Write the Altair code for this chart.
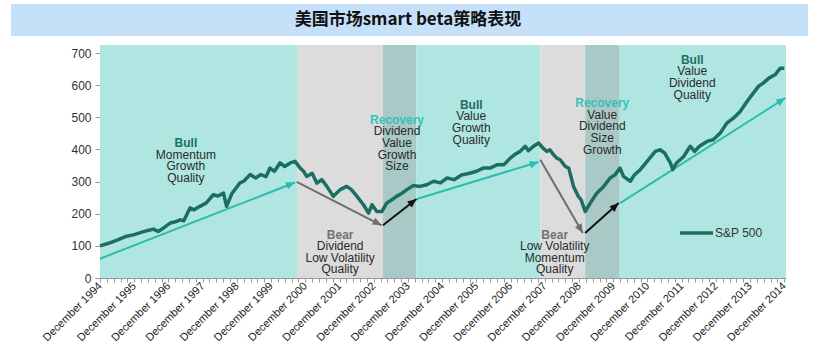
import math
import altair as alt
import pandas as pd

# ---------------- data ----------------
title_text = "美国市场smart beta策略表现"
legend_label = "S&P 500"

# years since December 1994
t_years = [0.00, 0.25, 0.5, 0.78, 1.0, 1.2, 1.4, 1.56, 1.7, 1.85, 2.05, 2.2, 2.34, 2.45, 2.63, 2.75,
           2.92, 3.1, 3.31, 3.45, 3.61, 3.70, 3.85, 4.09, 4.2, 4.39, 4.55, 4.7, 4.85, 4.97, 5.1,
           5.26, 5.4, 5.56, 5.70, 5.85, 5.95, 6.04, 6.2, 6.34, 6.48, 6.63, 6.82, 7.02, 7.21, 7.35,
           7.51, 7.70, 7.85, 7.95, 8.09, 8.24, 8.38, 8.55, 8.67, 8.8, 8.97, 9.16, 9.35, 9.55, 9.75,
           9.95, 10.14, 10.35, 10.58, 10.8, 11.01, 11.2, 11.40, 11.6, 11.8, 11.99, 12.12, 12.28,
           12.43, 12.52, 12.67, 12.82, 12.95, 13.06, 13.15, 13.25, 13.35, 13.45, 13.6, 13.7, 13.84,
           13.98, 14.06, 14.18, 14.33, 14.52, 14.72, 14.91, 15.05, 15.20, 15.3, 15.50, 15.62, 15.79,
           15.99, 16.23, 16.37, 16.5, 16.67, 16.74, 16.85, 17.06, 17.25, 17.38, 17.52, 17.74, 17.92,
           18.13, 18.32, 18.52, 18.71, 18.91, 19.10, 19.25, 19.39, 19.55, 19.74, 19.88, 20.0]
sp_values = [100, 108, 118, 130, 135, 142, 148, 152, 145, 155, 171, 175, 181, 178, 218, 212,
             223, 233, 259, 255, 264, 223, 262, 296, 301, 322, 311, 322, 315, 342, 332,
             358, 347, 358, 363, 342, 332, 316, 326, 295, 306, 285, 254, 275, 285, 275,
             254, 228, 202, 228, 207, 207, 233, 245, 254, 262, 275, 288, 285, 290, 301,
             296, 311, 306, 321, 326, 332, 342, 342, 352, 352, 373, 384, 394,
             410, 396, 410, 420, 404, 394, 399, 384, 373, 368, 347, 342, 285,
             254, 244, 207, 233, 264, 285, 311, 321, 342, 316, 301, 321, 337,
             363, 394, 399, 389, 358, 337, 358, 378, 410, 394, 410, 425, 430,
             451, 482, 498, 518, 549, 576, 597, 607, 622, 633, 653, 653]

phase_start = [0.0, 5.76, 8.27, 9.24, 12.87, 14.18, 15.19]
phase_end = [5.76, 8.27, 9.24, 12.87, 14.18, 15.19, 20.05]
phase_kind = ["bull", "bear", "recovery", "bull", "bear", "recovery", "bull"]

arrow_x1 = [0.0, 5.75, 8.27, 9.26, 12.87, 14.18, 15.20]
arrow_y1 = [60, 299, 164, 246, 368, 140, 233]
arrow_x2 = [5.70, 8.23, 9.25, 12.82, 14.11, 15.16, 20.03]
arrow_y2 = [297, 164, 246, 361, 140, 233, 560]
arrow_kind = ["up", "down", "turn", "up", "down", "turn", "up"]

block_x = [2.51, 7.02, 8.68, 10.85, 13.29, 14.68, 17.31]
block_y = [420, 135, 492, 539, 135, 544, 679]
block_head = ["Bull", "Bear", "Recovery", "Bull", "Bear", "Recovery", "Bull"]
block_lines = [["Momentum", "Growth", "Quality"],
               ["Dividend", "Low Volatility", "Quality"],
               ["Dividend", "Value", "Growth", "Size"],
               ["Value", "Growth", "Quality"],
               ["Low Volatility", "Momentum", "Quality"],
               ["Value", "Dividend", "Size", "Growth"],
               ["Value", "Dividend", "Quality"]]

start_year = 1994
y_ticks = [0, 100, 200, 300, 400, 500, 600, 700]

# ---------------- layout ----------------
W, H = 686, 233
X_MAX, Y_MAX = 20.05, 725
px_x = W / X_MAX
px_y = H / Y_MAX
line_gap = 11.6 / px_y
FONT = "Liberation Sans"

line_df = pd.DataFrame({"t": t_years, "v": sp_values})
phase_df = pd.DataFrame({"s": phase_start, "e": phase_end, "k": phase_kind,
                         "lo": [0] * len(phase_kind), "hi": [Y_MAX] * len(phase_kind)})
arrow_df = pd.DataFrame({"x1": arrow_x1, "y1": arrow_y1, "x2": arrow_x2, "y2": arrow_y2, "k": arrow_kind})
arrow_df["ang"] = [
    (math.degrees(math.atan2((b - a) * px_x, (d - c) * px_y)) + 360) % 360
    for a, b, c, d in zip(arrow_x1, arrow_x2, arrow_y1, arrow_y2)
]
head_df = pd.DataFrame({"x": block_x, "y": block_y, "txt": block_head})
body_rows = []
for bx, by, lines in zip(block_x, block_y, block_lines):
    for i, s in enumerate(lines):
        body_rows.append({"x": bx, "y": by - (i + 1) * line_gap, "txt": s})
body_df = pd.DataFrame(body_rows)

xscale = alt.Scale(domain=[0, X_MAX], nice=False, zero=False)
yscale = alt.Scale(domain=[0, Y_MAX], nice=False, zero=True)

tick_vals = [round(i * 0.2, 2) for i in range(101)]
x_axis = alt.Axis(
    values=tick_vals, title=None, grid=False,
    labelExpr=f"abs(datum.value - round(datum.value)) < 0.01 ? 'December ' + ({start_year} + round(datum.value)) : ''",
    labelAngle=-45, labelAlign="right", labelBaseline="middle", labelFont=FONT, labelFontSize=11,
    labelColor="#222", labelPadding=2, labelOverlap=False, labelFlush=False,
    tickSize=4, tickColor="#999", domainColor="#999",
)
y_axis = alt.Axis(
    values=y_ticks, title=None, grid=False, labelFont=FONT, labelFontSize=12, labelColor="#333",
    labelPadding=4, tickSize=5, tickColor="#999", domainColor="#999",
)

phase_color = alt.Scale(domain=["bull", "bear", "recovery"], range=["#b0e6e2", "#dcdcdc", "#a9c9c6"])
arrow_color = alt.Scale(domain=["up", "down", "turn"], range=["#2bbcb0", "#6e6e6e", "#111111"])
head_color = alt.Scale(domain=["Bull", "Bear", "Recovery"], range=["#1d6e63", "#737373", "#35c2b7"])


def X(field):
    return alt.X(field, scale=xscale, axis=x_axis)


def Y(field):
    return alt.Y(field, scale=yscale, axis=y_axis)


regions = alt.Chart(phase_df).mark_rect().encode(
    x=X("s:Q"), x2="e:Q", y=Y("lo:Q"), y2="hi:Q",
    color=alt.Color("k:N", scale=phase_color, legend=None),
)

arrows = alt.Chart(arrow_df).mark_rule(strokeWidth=2).encode(
    x=X("x1:Q"), x2="x2:Q", y=Y("y1:Q"), y2="y2:Q",
    color=alt.Color("k:N", scale=arrow_color, legend=None),
)

heads = alt.Chart(arrow_df).mark_point(filled=True, opacity=1, strokeWidth=0).encode(
    x=X("x2:Q"), y=Y("y2:Q"),
    angle=alt.Angle("ang:Q", scale=None),
    shape=alt.value("M0,0L0.85,2L-0.85,2Z"),
    size=alt.value(80),
    color=alt.Color("k:N", scale=arrow_color, legend=None),
)

line = alt.Chart(line_df).mark_line(color="#1b6e62", strokeWidth=3.5, strokeJoin="round").encode(
    x=X("t:Q"), y=Y("v:Q"),
)

heads_txt = alt.Chart(head_df).mark_text(font=FONT, fontSize=12, fontWeight="bold", baseline="middle").encode(
    x=X("x:Q"), y=Y("y:Q"), text="txt:N",
    color=alt.Color("txt:N", scale=head_color, legend=None),
)

body_txt = alt.Chart(body_df).mark_text(font=FONT, fontSize=12, color="#2a2a2a", baseline="middle").encode(
    x=X("x:Q"), y=Y("y:Q"), text="txt:N",
)

leg_df = pd.DataFrame({"lab": [legend_label]})
leg_line = alt.Chart(leg_df).mark_rule(color="#1b6e62", strokeWidth=3.5).encode(
    x=alt.value(580), x2=alt.value(613), y=alt.value(188),
)
leg_txt = alt.Chart(leg_df).mark_text(font=FONT, fontSize=12, color="#333", align="left", baseline="middle").encode(
    x=alt.value(615), y=alt.value(188), text="lab:N",
)

ttl_df = pd.DataFrame({"t": [title_text]})
banner = alt.Chart(ttl_df).mark_rect(color="#c5e1fa").encode(
    x=alt.value(-89), x2=alt.value(708), y=alt.value(-41), y2=alt.value(-9),
)
ttl = alt.Chart(ttl_df).mark_text(font="Noto Sans CJK SC", fontSize=17, fontWeight="bold",
                                   color="#111", baseline="middle").encode(
    x=alt.value(308), y=alt.value(-25), text="t:N",
)

chart = alt.layer(
    regions, arrows, line, heads, heads_txt, body_txt, leg_line, leg_txt, banner, ttl
).resolve_scale(color="independent").properties(
    width=W, height=H,
    padding={"left": 100, "top": 45, "right": 31, "bottom": 66},
    autosize=alt.AutoSizeParams(type="none"),
    background="white",
).configure_view(stroke=None)

chart.save("out.html", embed_options={"renderer": "svg", "actions": False})
